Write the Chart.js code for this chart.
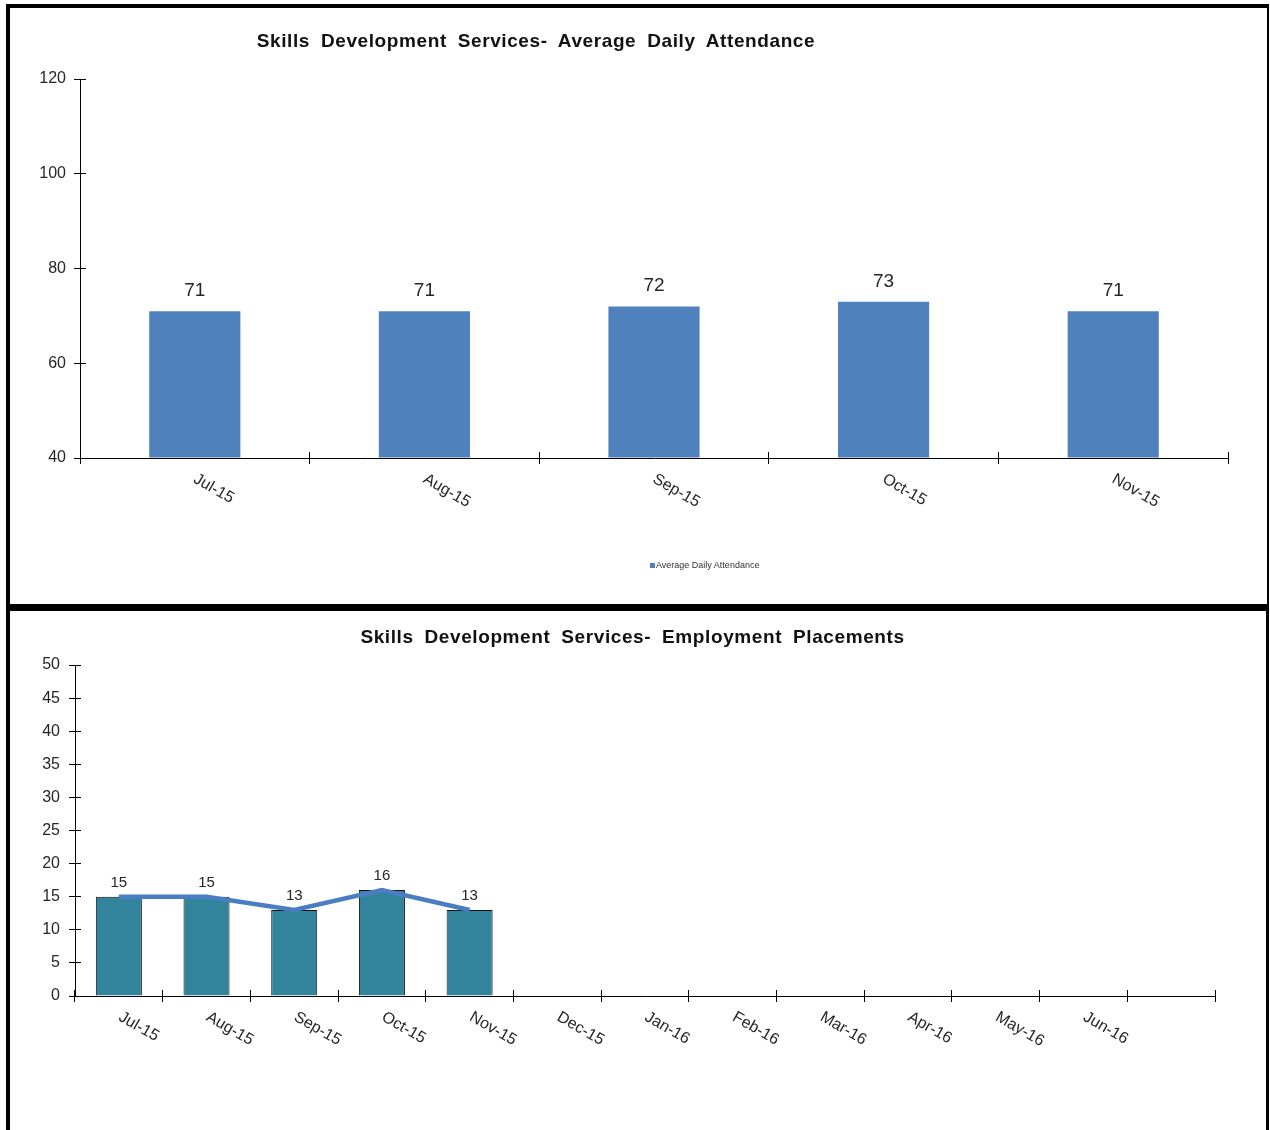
<!DOCTYPE html>
<html>
<head>
<meta charset="utf-8">
<script src="https://cdn.jsdelivr.net/npm/chart.js@4.4.1/dist/chart.umd.min.js"></script>
<style>
  html, body { margin: 0; padding: 0; background: #fff; }
  #page { position: relative; width: 1270px; height: 1130px; overflow: hidden; background: #fff; font-family: "Liberation Sans", Arial, sans-serif; }
  .box { position: absolute; box-sizing: border-box; border-style: solid; border-color: #000; }
  #box1 { left: 6px; top: 4px; width: 1263px; height: 603px; border-width: 4px 2px 3px 4px; }
  #box2 { left: 6px; top: 607px; width: 1263px; height: 540px; border-width: 4px 3px 0 4px; }
  canvas { position: absolute; }
  #c1 { left: 10px; top: 8px; }
  #c2 { left: 10px; top: 611px; }
  .title { position: absolute; left: 0; text-align: center; font-weight: bold; font-size: 19px; line-height: 19px; letter-spacing: 0.6px; word-spacing: 5px; color: #111; white-space: nowrap; }
  #t1 { top: 31px; width: 1072px; }
  #t2 { top: 627px; width: 1265px; }
  #legSq { position: absolute; left: 650px; top: 563px; width: 5px; height: 5px; background: #4F81BD; }
  #legTx { position: absolute; left: 656px; top: 560px; font-size: 9px; line-height: 10px; color: #333; white-space: nowrap; }
</style>
</head>
<body>
<div id="page">
  <div class="box" id="box1"></div>
  <div class="box" id="box2"></div>
  <canvas id="c1" width="1257" height="596"></canvas>
  <canvas id="c2" width="1256" height="519"></canvas>
  <div class="title" id="t1">Skills Development Services- Average Daily Attendance</div>
  <div class="title" id="t2">Skills Development Services- Employment Placements</div>
  <div id="legSq"></div>
  <div id="legTx">Average Daily Attendance</div>
</div>
<script>
// ---- Data ----
const attendanceMonths = ["Jul-15", "Aug-15", "Sep-15", "Oct-15", "Nov-15"];
const attendanceValues = [71, 71, 72, 73, 71];
const attendanceTicks = [40, 60, 80, 100, 120];

const placementMonths = ["Jul-15", "Aug-15", "Sep-15", "Oct-15", "Nov-15", "Dec-15", "Jan-16", "Feb-16", "Mar-16", "Apr-16", "May-16", "Jun-16", ""];
const placementBars = [15, 15, 13, 16, 13, null, null, null, null, null, null, null, null];
const placementLine = [15, 15, 13, 16, 13, null, null, null, null, null, null, null, null];
const placementTicks = [0, 5, 10, 15, 20, 25, 30, 35, 40, 45, 50];

const FONT = '"Liberation Sans", Arial, sans-serif';
const TEXT = '#262626';

function alignPx(p) { return Math.round(p - 0.5) + 0.5; }

// Axis decorations: inner half of crossing tick marks + rotated category labels
const axisDecor = {
  id: 'axisDecor',
  afterDraw(chart, args, opts) {
    const ctx = chart.ctx;
    const xs = chart.scales.x, ys = chart.scales.y;
    const area = chart.chartArea;
    ctx.save();
    ctx.strokeStyle = '#000';
    ctx.lineWidth = 1;
    ys.ticks.forEach((t, i) => {
      const y = alignPx(ys.getPixelForTick(i));
      ctx.beginPath(); ctx.moveTo(area.left, y); ctx.lineTo(area.left + 6, y); ctx.stroke();
    });
    const n = chart.data.labels.length;
    const half = (xs.getPixelForValue(1) - xs.getPixelForValue(0)) / 2;
    for (let i = 0; i <= n; i++) {
      const x = alignPx(xs.getPixelForValue(i) - half);
      ctx.beginPath(); ctx.moveTo(x, area.bottom); ctx.lineTo(x, area.bottom - 6); ctx.stroke();
    }
    ctx.font = opts.font;
    ctx.fillStyle = TEXT;
    ctx.textAlign = 'left';
    ctx.textBaseline = 'top';
    chart.data.labels.forEach((lab, i) => {
      if (!lab) return;
      const x = xs.getPixelForValue(i);
      ctx.save();
      ctx.translate(x + opts.dx, area.bottom + opts.dy);
      ctx.rotate(30 * Math.PI / 180);
      ctx.fillText(lab, 0, 0);
      ctx.restore();
    });
    ctx.restore();
  }
};

// Value labels above bars
const valueLabels = {
  id: 'valueLabels',
  afterDatasetsDraw(chart, args, opts) {
    const ctx = chart.ctx;
    const meta = chart.getDatasetMeta(opts.datasetIndex);
    const data = chart.data.datasets[opts.datasetIndex].data;
    ctx.save();
    ctx.font = opts.font;
    ctx.fillStyle = TEXT;
    ctx.textAlign = 'center';
    ctx.textBaseline = 'alphabetic';
    meta.data.forEach((el, i) => {
      const v = data[i];
      if (v === null || v === undefined) return;
      ctx.fillText(String(v), el.x, el.y - opts.offset);
    });
    ctx.restore();
  }
};

function yScale(min, max, step, width, pad) {
  return {
    min: min, max: max,
    afterFit(s) { s.width = width; },
    ticks: { stepSize: step, color: TEXT, font: { family: FONT, size: 16 }, padding: pad },
    grid: { drawOnChartArea: false, drawTicks: true, tickLength: 6, color: '#000', lineWidth: 1 },
    border: { display: true, color: '#000', width: 1 }
  };
}
function xScale(height) {
  return {
    offset: true,
    afterFit(s) { s.height = height; },
    ticks: { display: false },
    grid: { offset: true, drawOnChartArea: false, drawTicks: true, tickLength: 6, color: '#000', lineWidth: 1 },
    border: { display: true, color: '#000', width: 1 }
  };
}

// ---- Chart 1 ----
new Chart(document.getElementById('c1'), {
  type: 'bar',
  data: {
    labels: attendanceMonths,
    datasets: [{
      label: 'Average Daily Attendance',
      data: attendanceValues,
      base: attendanceTicks[0],
      backgroundColor: '#4F81BD',
      borderWidth: 0,
      categoryPercentage: 1,
      barPercentage: 0.397
    }]
  },
  options: {
    responsive: false,
    animation: false,
    devicePixelRatio: 1,
    layout: { padding: { left: 0, right: 39, top: 71, bottom: 0 } },
    scales: {
      x: xScale(146),
      y: yScale(attendanceTicks[0], attendanceTicks[attendanceTicks.length - 1], 20, 70, 8)
    },
    plugins: {
      legend: { display: false },
      title: { display: false },
      tooltip: { enabled: false },
      axisDecor: { font: '16px ' + FONT, dx: 4, dy: 13 },
      valueLabels: { datasetIndex: 0, font: '19px ' + FONT, offset: 15 }
    }
  },
  plugins: [axisDecor, valueLabels]
});

// ---- Chart 2 ----
new Chart(document.getElementById('c2'), {
  type: 'bar',
  data: {
    labels: placementMonths,
    datasets: [{
      type: 'line',
      label: 'Trend',
      data: placementLine,
      borderColor: '#4A7DC1',
      borderWidth: 4.5,
      pointRadius: 0,
      tension: 0,
      spanGaps: false,
      order: 0
    }, {
      type: 'bar',
      label: 'Employment Placements',
      data: placementBars,
      backgroundColor: '#31849B',
      borderColor: '#111',
      borderWidth: 1,
      categoryPercentage: 1,
      barPercentage: 0.525,
      order: 1
    }]
  },
  options: {
    responsive: false,
    animation: false,
    devicePixelRatio: 1,
    layout: { padding: { left: 0, right: 51, top: 54, bottom: 0 } },
    scales: {
      x: xScale(134),
      y: yScale(placementTicks[0], placementTicks[placementTicks.length - 1], 5, 65, 9)
    },
    plugins: {
      legend: { display: false },
      title: { display: false },
      tooltip: { enabled: false },
      axisDecor: { font: '16px ' + FONT, dx: 5, dy: 13 },
      valueLabels: { datasetIndex: 1, font: '15px ' + FONT, offset: 10 }
    }
  },
  plugins: [axisDecor, valueLabels]
});
</script>
</body>
</html>
